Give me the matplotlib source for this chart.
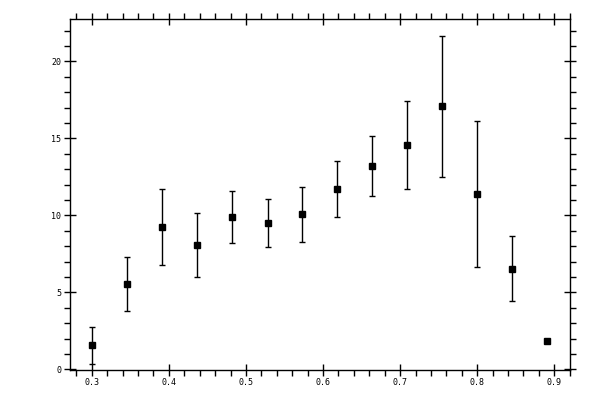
import matplotlib
matplotlib.use('Agg')
import matplotlib.pyplot as plt
from matplotlib.ticker import MultipleLocator

# values
x = [0.300, 0.346, 0.391, 0.437, 0.482, 0.528, 0.573,
     0.618, 0.664, 0.709, 0.755, 0.800, 0.845, 0.891]
y = [1.56, 5.52, 9.22, 8.05, 9.87, 9.48, 10.06,
     11.69, 13.18, 14.55, 17.08, 11.36, 6.49, 1.83]
y_hi = [2.73, 7.27, 11.69, 10.14, 11.56, 11.05, 11.82,
        13.51, 15.13, 17.40, 21.62, 16.10, 8.64, 1.93]
y_lo = [0.32, 3.77, 6.75, 5.97, 8.18, 7.92, 8.25,
        9.87, 11.23, 11.69, 12.47, 6.62, 4.42, 1.73]

err_lo = [v - lo for v, lo in zip(y, y_lo)]
err_hi = [hi - v for v, hi in zip(y, y_hi)]

fig = plt.figure(figsize=(6, 4), dpi=100)
ax = fig.add_axes([69.7 / 600, 1 - 370 / 400, (570.3 - 69.7) / 600, (370 - 19.3) / 400])

ax.errorbar(x, y, yerr=[err_lo, err_hi], fmt='s', color='black',
            markersize=5, elinewidth=1, capsize=2.5, capthick=1)

ax.set_xlim(0.2714, 0.9208)
ax.set_ylim(-0.04, 22.73)

ax.xaxis.set_major_locator(MultipleLocator(0.1))
ax.xaxis.set_minor_locator(MultipleLocator(0.02))
ax.yaxis.set_major_locator(MultipleLocator(5))
ax.yaxis.set_minor_locator(MultipleLocator(1))
ax.xaxis.set_major_formatter(plt.FuncFormatter(lambda v, p: '%.1f' % v))
ax.yaxis.set_major_formatter(plt.FuncFormatter(lambda v, p: '%d' % round(v)))

ax.tick_params(which='major', direction='inout', length=8, width=1,
               top=True, right=True, labelsize=6, pad=2)
ax.tick_params(which='minor', direction='out', length=4, width=1,
               top=True, right=True)
for lab in ax.get_xticklabels() + ax.get_yticklabels():
    lab.set_family('DejaVu Sans Mono')
for s in ax.spines.values():
    s.set_linewidth(1.0)

fig.savefig('out.png', dpi=100)
